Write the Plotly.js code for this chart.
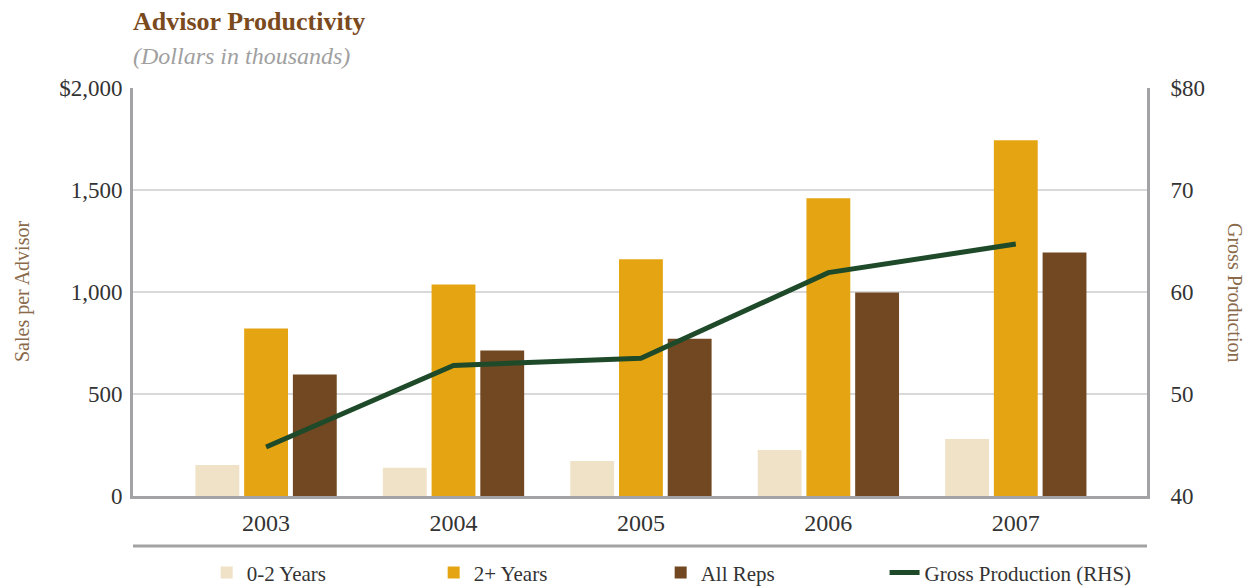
<!DOCTYPE html>
<html>
<head>
<meta charset="utf-8">
<script src="https://cdn.plot.ly/plotly-3.0.1.min.js"></script>
<style>html,body{margin:0;padding:0;background:#fff;}#chart{width:1245px;height:587px;}</style>
</head>
<body>
<div id="chart"></div>
<script>
const years = ['2003', '2004', '2005', '2006', '2007'];
const years02 = [152, 138, 172, 226, 280];
const yearsPlus = [821, 1037, 1160, 1459, 1744];
const allReps = [595, 713, 771, 997, 1194];
const grossProduction = [44.8, 52.8, 53.5, 61.9, 64.7];
const leftTickVals = [0, 500, 1000, 1500, 2000];
const leftTickText = ['0', '500', '1,000', '1,500', '$2,000'];
const rightTickVals = [40, 50, 60, 70, 80];
const rightTickText = ['40', '50', '60', '70', '$80'];

const FONT = 'Liberation Serif, DejaVu Serif, serif';
const axisGray = '#a3a3a6';

const traces = [
  {type: 'bar', name: '0-2 Years', x: years, y: years02, marker: {color: '#efe2c6'}},
  {type: 'bar', name: '2+ Years', x: years, y: yearsPlus, marker: {color: '#e5a512'}},
  {type: 'bar', name: 'All Reps', x: years, y: allReps, marker: {color: '#714821'}},
  {type: 'scatter', mode: 'lines', name: 'Gross Production (RHS)', x: years, y: grossProduction, yaxis: 'y2',
   legend: 'legend2', line: {color: '#1e4a2a', width: 5}}
];

const legendFont = {family: FONT, size: 21, color: '#333'};

const layout = {
  width: 1245, height: 587,
  margin: {l: 133, r: 98, t: 88, b: 91, autoexpand: false},
  paper_bgcolor: '#fff', plot_bgcolor: '#fff',
  font: {family: FONT, color: '#333', size: 22},
  barmode: 'group', bargap: 0.22, bargroupgap: 0.1,
  showlegend: true,
  legend: {orientation: 'h', xref: 'container', yref: 'container', x: 0.166, xanchor: 'left',
    y: 0.024, yanchor: 'middle', bgcolor: 'rgba(0,0,0,0)', font: legendFont,
    entrywidth: 182, entrywidthmode: 'pixels', itemwidth: 30, traceorder: 'normal'},
  legend2: {orientation: 'h', xref: 'container', yref: 'container', x: 0.7105, xanchor: 'left',
    y: 0.024, yanchor: 'middle', bgcolor: 'rgba(0,0,0,0)', font: legendFont, itemwidth: 30},
  xaxis: {type: 'category', range: [-0.71, 4.70], showline: true, linecolor: axisGray, linewidth: 3,
    ticks: '', showgrid: false, tickfont: {size: 24, color: '#333'}, zeroline: false, ticklabelstandoff: 3},
  yaxis: {range: [0, 2000], tickvals: leftTickVals, ticktext: leftTickText, showline: true,
    linecolor: axisGray, linewidth: 3, gridcolor: '#d9d9d9', gridwidth: 1.5, zeroline: false,
    ticks: '', tickfont: {size: 23, color: '#333'}, ticklabelstandoff: 3},
  yaxis2: {range: [40, 80], overlaying: 'y', side: 'right', tickvals: rightTickVals, ticktext: rightTickText,
    showline: true, linecolor: axisGray, linewidth: 3, showgrid: false, zeroline: false, ticks: '',
    tickfont: {size: 23, color: '#333'}, ticklabelstandoff: 16},
  shapes: [
    {type: 'line', xref: 'paper', yref: 'paper', x0: 0, x1: 1, y0: -0.1225, y1: -0.1225,
     line: {color: axisGray, width: 3}}
  ],
  annotations: [
    {xref: 'paper', yref: 'paper', x: 0, y: 1, xanchor: 'left', yanchor: 'bottom', yshift: 50, xshift: -2,
     text: '<b>Advisor Productivity</b>', showarrow: false,
     font: {family: FONT, size: 26, color: '#7a4a1e'}},
    {xref: 'paper', yref: 'paper', x: 0, y: 1, xanchor: 'left', yanchor: 'bottom', yshift: 17, xshift: -2,
     text: '<i>(Dollars in thousands)</i>', showarrow: false,
     font: {family: FONT, size: 24, color: '#a0a0a0'}},
    {xref: 'paper', yref: 'paper', x: 0, y: 0.5, xanchor: 'center', yanchor: 'middle', xshift: -111,
     text: 'Sales per Advisor', textangle: -90, showarrow: false,
     font: {family: FONT, size: 20, color: '#8a6a4a'}},
    {xref: 'paper', yref: 'paper', x: 1, y: 0.5, xanchor: 'center', yanchor: 'middle', xshift: 88,
     text: 'Gross Production', textangle: 90, showarrow: false,
     font: {family: FONT, size: 20, color: '#8a6a4a'}}
  ]
};

Plotly.newPlot('chart', traces, layout, {displayModeBar: false, staticPlot: true});
</script>
</body>
</html>
